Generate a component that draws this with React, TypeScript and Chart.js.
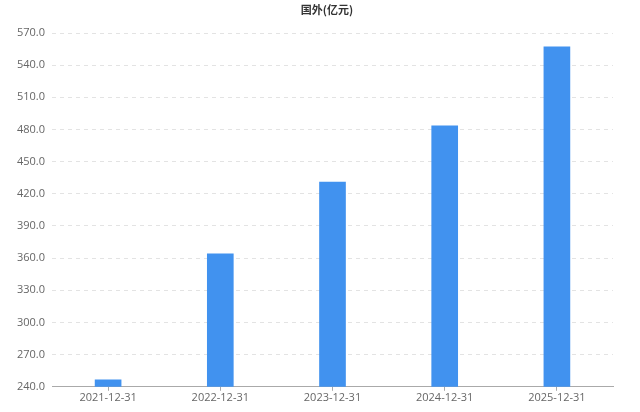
import React, { useEffect, useRef } from "react";
import { Chart, registerables } from "chart.js";

Chart.register(...registerables);

const categories = ["2021-12-31", "2022-12-31", "2023-12-31", "2024-12-31", "2025-12-31"];
const values = [246.5, 364.0, 431.0, 483.3, 557.2];
const titleText = "国外(亿元)";
const yMin = 240;
const yMax = 570;
const yStep = 30;

const titlePlugin = {
  id: "customTitle",
  afterDraw(chart: any) {
    const ctx = chart.ctx;
    ctx.save();
    ctx.font = "bold 11px 'Noto Sans CJK SC', sans-serif";
    ctx.fillStyle = "#333";
    ctx.textAlign = "center";
    ctx.textBaseline = "middle";
    ctx.fillText(titleText, 327, 10);
    ctx.restore();
  },
};

export default function App() {
  const ref = useRef<HTMLCanvasElement>(null);
  useEffect(() => {
    document.body.style.margin = "0";
    if (!ref.current) return;
    const chart = new Chart(ref.current, {
      type: "bar",
      data: {
        labels: categories,
        datasets: [
          {
            label: titleText,
            data: values,
            backgroundColor: "#4192EF",
            barThickness: 26,
          },
        ],
      },
      options: {
        animation: false,
        responsive: false,
        devicePixelRatio: 1,
        layout: { padding: { left: 0, right: 27, top: 33, bottom: 8 } },
        plugins: {
          legend: { display: false },
          tooltip: { enabled: false },
          title: { display: false },
        },
        scales: {
          x: {
            grid: {
              display: true,
              drawOnChartArea: false,
              offset: false,
              tickLength: 4,
              color: "#aaa",
            },
            border: { display: true, color: "#aaa" },
            ticks: {
              color: "#666",
              font: { family: "'Open Sans', 'Noto Sans', sans-serif", size: 11 },
              padding: 0,
              maxRotation: 0,
            },
          },
          y: {
            min: yMin,
            max: yMax,
            afterFit: (scale: any) => {
              scale.width = 52;
            },
            grid: {
              color: "#e3e3e3",
              drawTicks: false,
            },
            border: { display: true, color: "rgba(0,0,0,0)", width: 0, dash: [4, 4] },
            ticks: {
              stepSize: yStep,
              color: "#666",
              padding: 7,
              font: { family: "'Open Sans', 'Noto Sans', sans-serif", size: 11 },
              callback: (v: any) => Number(v).toFixed(1),
            },
          },
        },
      },
      plugins: [titlePlugin],
    });
    return () => chart.destroy();
  }, []);
  return (
    <div style={{ position: "absolute", left: 0, top: 0, width: 640, height: 412 }}>
      <canvas ref={ref} width={640} height={412} style={{ width: 640, height: 412 }} />
    </div>
  );
}
